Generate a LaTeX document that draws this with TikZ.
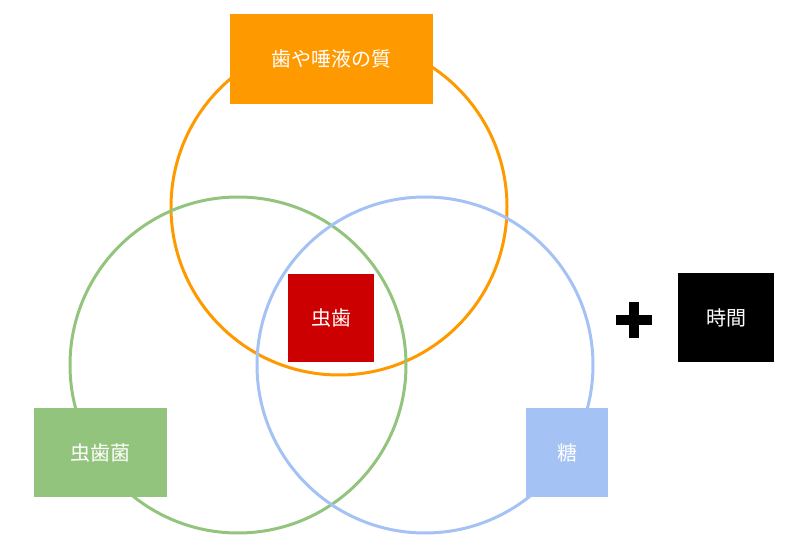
\documentclass[tikz,border=0pt]{standalone}
\usepackage{fontspec}
\newfontfamily\cjk{Noto Sans CJK JP}
\definecolor{cor}{HTML}{FF9900}
\definecolor{cgr}{HTML}{93C47D}
\definecolor{cbl}{HTML}{A4C2F4}
\definecolor{cre}{HTML}{CC0000}
\begin{document}
\begin{tikzpicture}[x=1pt,y=-1pt,
 ring/.style={line width=3pt},
 lbl/.style={inner sep=0,text=white,font=\cjk\fontsize{20}{24}\selectfont}]
\useasboundingbox (0,0) rectangle (796,553);
\draw[ring,cor] (339,207) circle (168);
\draw[ring,cgr] (238,365) circle (168);
\draw[ring,cbl] (425,365) circle (168);
\node[lbl,fill=cor,minimum width=203,minimum height=90] (q) at (331.5,59) {歯や唾液の質};
\node[lbl,fill=cre,minimum width=86,minimum height=88] (m) at (331,318) {虫歯};
\node[lbl,fill=cgr,minimum width=133,minimum height=89] (b) at (100.5,452.5) {虫歯菌};
\node[lbl,fill=cbl,minimum width=82,minimum height=89] (s) at (567,452.5) {糖};
\node[lbl,fill=black,minimum width=96,minimum height=89] (t) at (726,317.5) {時間};
\fill[black] (629,302) rectangle (639,338);
\fill[black] (616,315) rectangle (652,325);
\end{tikzpicture}
\end{document}
